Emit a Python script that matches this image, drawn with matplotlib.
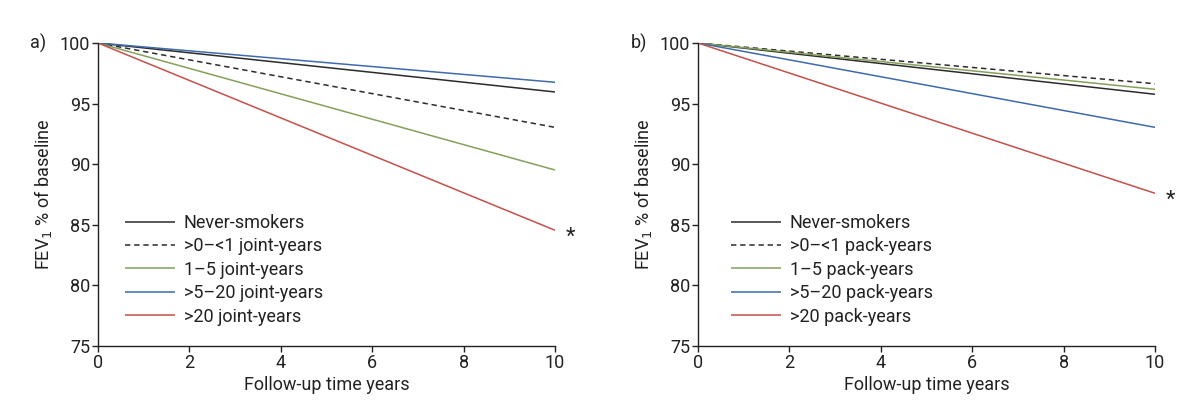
import matplotlib
matplotlib.use("Agg")
import matplotlib.pyplot as plt

plt.rcParams['font.family'] = ['Roboto', 'DejaVu Sans']

years = [0, 10]

labels_a = ["Never-smokers", ">0\u2013<1 joint-years", "1\u20135 joint-years",
            ">5\u201320 joint-years", ">20 joint-years"]
values_a = [[100, 95.96], [100, 93.04], [100, 89.52], [100, 96.76], [100, 84.55]]

labels_b = ["Never-smokers", ">0\u2013<1 pack-years", "1\u20135 pack-years",
            ">5\u201320 pack-years", ">20 pack-years"]
values_b = [[100, 95.77], [100, 96.64], [100, 96.18], [100, 93.04], [100, 87.6]]

panel_letters = ["a)", "b)"]
y_ticks = [75, 80, 85, 90, 95, 100]
x_ticks = [0, 2, 4, 6, 8, 10]

colors = ["#2b2b2b", "#2b2b2b", "#84a05a", "#3f6aab", "#c4504b"]
styles = ["-", (0, (3.5, 2.5)), "-", "-", "-"]

W, H = 1199, 407
fig = plt.figure(figsize=(W / 100, H / 100), dpi=100)

axes_px = [(98, 555), (698, 1155)]
legend_x = [0.059, 0.072]
top_px, bot_px = 43, 346
fs = 13
tc = "#222222"

for i, (labels, values) in enumerate([(labels_a, values_a), (labels_b, values_b)]):
    l, r = axes_px[i]
    ax = fig.add_axes([l / W, (H - bot_px) / H, (r - l) / W, (bot_px - top_px) / H])
    for lab, val, c, ls in zip(labels, values, colors, styles):
        ax.plot(years, val, color=c, linestyle=ls, linewidth=1.1, label=lab,
                solid_capstyle='butt')
    ax.set_xlim(0, 10)
    ax.set_ylim(75, 100)
    ax.set_xticks(x_ticks)
    ax.set_yticks(y_ticks)
    for s in ["top", "right"]:
        ax.spines[s].set_visible(False)
    for s in ["left", "bottom"]:
        ax.spines[s].set_linewidth(1.0)
        ax.spines[s].set_color(tc)
    ax.tick_params(direction="out", length=4, width=1.0, colors=tc,
                   labelsize=fs, pad=1.5)
    ax.set_xlabel("Follow-up time years", fontsize=fs, color=tc, labelpad=3)
    ax.set_ylabel("FEV$_1$ % of baseline", fontsize=fs, color=tc, labelpad=4)
    ax.text(-0.148, 1.0, panel_letters[i], transform=ax.transAxes, fontsize=fs,
            ha="left", va="center", color=tc)
    leg = ax.legend(loc="upper left", bbox_to_anchor=(legend_x[i], 0.436), frameon=False,
                    fontsize=fs, handlelength=2.75, handletextpad=0.5,
                    labelspacing=0.3, borderaxespad=0, borderpad=0)
    for t in leg.get_texts():
        t.set_color(tc)
    last = values[-1][-1]
    ax.text(10.33, last - 0.6, "*", fontsize=fs + 3, ha="center", va="center",
            clip_on=False, color=tc)

fig.savefig("out.png", dpi=100)
